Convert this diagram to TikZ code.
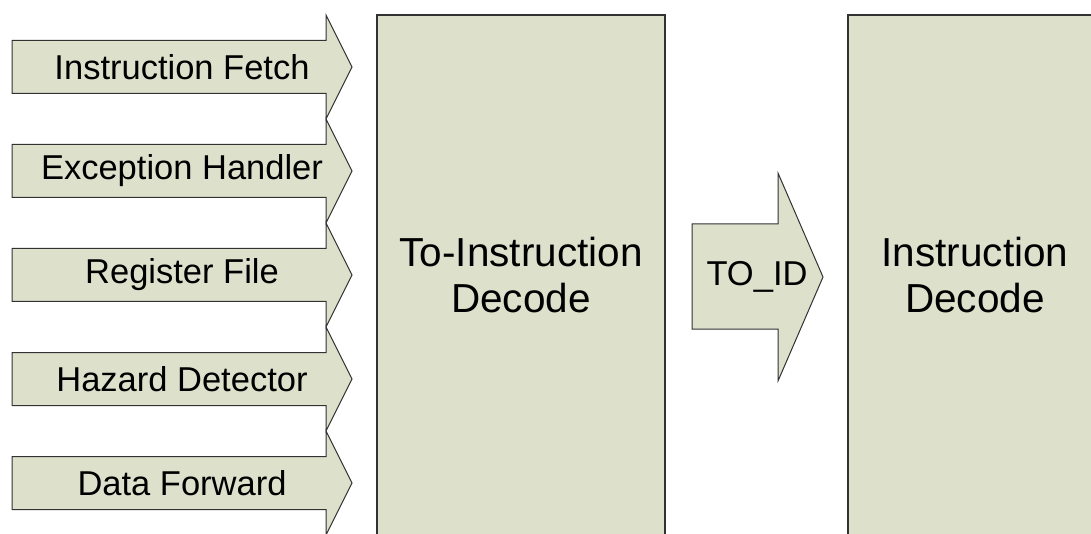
\documentclass[tikz,border=0pt]{standalone}
\usepackage{fontspec}
\setmainfont{Liberation Sans}
\definecolor{boxfill}{RGB}{221,224,203}
\definecolor{edge}{RGB}{50,50,50}
\begin{document}
\begin{tikzpicture}[x=1pt,y=-1pt,
  shapefill/.style={fill=boxfill,draw=edge,line width=1pt,line join=miter},
  blockbox/.style={fill=boxfill,draw=edge,line width=1.3pt},
  arrowlabel/.style={font=\fontsize{34.5}{40}\selectfont,inner sep=0pt},
  blocklabel/.style={font=\fontsize{40.5}{46}\selectfont,align=center,inner sep=0pt}]
\useasboundingbox (0,0) rectangle (1091,534);
\fill[white] (0,0) rectangle (1091,534);
% input arrows
\foreach \c/\name/\txt in {67/a1/Instruction Fetch,171/a2/Exception Handler,275/a3/Register File,379/a4/Hazard Detector,483/a5/Data Forward}{
  \draw[shapefill] (12,\c-26.5) -- (326,\c-26.5) -- (326,\c-52) -- (352,\c) -- (326,\c+52) -- (326,\c+26.5) -- (12,\c+26.5) -- cycle;
  \node[arrowlabel] (\name) at (182,\c) {\txt};
}
% blocks
\draw[blockbox] (377,545) -- (377,15) -- (665,15) -- (665,545);
\node[blocklabel] (tid) at (521,275) {To-Instruction\\Decode};
\draw[blockbox] (848,545) -- (848,15) -- (1100,15) -- (1100,545);
\node[blocklabel] (id) at (975,275) {Instruction\\Decode};
% TO_ID arrow
\draw[shapefill] (692,224) -- (778,224) -- (778,173) -- (823,277) -- (778,381) -- (778,329) -- (692,329) -- cycle;
\node[arrowlabel] (toid) at (757,277) {TO\_ID};
\end{tikzpicture}
\end{document}
